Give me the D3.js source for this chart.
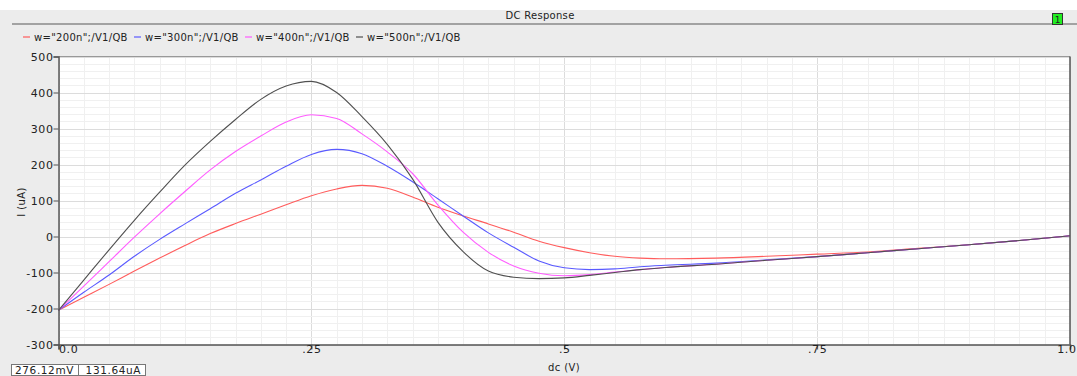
<!DOCTYPE html>
<html>
<head>
<meta charset="utf-8">
<script src="https://cdn.jsdelivr.net/npm/d3@7"></script>
<style>
  body { margin: 0; background: #fff; }
  svg { display: block; }
  text { font-family: 'DejaVu Sans', sans-serif; fill: #222; }
</style>
</head>
<body>
<div id="chart"></div>
<script>
// sweep points (dc, V)
const dc = [0, 0.025, 0.05, 0.075, 0.1, 0.125, 0.15, 0.175, 0.2, 0.225, 0.25, 0.275, 0.3,
  0.325, 0.35, 0.375, 0.4, 0.425, 0.45, 0.475, 0.5, 0.525, 0.55, 0.575, 0.6,
  0.65, 0.7, 0.75, 0.8, 0.85, 0.9, 0.95, 1.0]

// I (uA) per width
const w200 = [-205, -169, -133, -96, -60, -25, 8, 36, 62, 88, 113, 132, 142,
  134, 110, 81, 57, 35, 12, -13, -31, -45, -55, -60, -62,
  -60, -55, -49, -43, -33, -23, -11, 2]
const w300 = [-205, -155, -107, -55, -8, 35, 77, 120, 157, 195, 228, 242, 230,
  195, 152, 105, 57, 10, -30, -68, -87, -92, -90, -84, -80,
  -74, -65, -56, -45, -34, -23, -11, 2]
const w400 = [-205, -138, -70, -2, 63, 125, 185, 236, 279, 318, 338, 328, 285,
  235, 175, 88, 12, -44, -82, -102, -109, -106, -99, -92, -86,
  -77, -66, -56, -45, -34, -23, -11, 2]
const w500 = [-205, -121, -37, 45, 123, 198, 264, 325, 381, 418, 431, 400, 333,
  256, 160, 40, -42, -96, -113, -117, -115, -108, -100, -92, -86,
  -77, -66, -56, -45, -34, -23, -11, 2]

const seriesNames = ['w="200n";/V1/QB', 'w="300n";/V1/QB', 'w="400n";/V1/QB', 'w="500n";/V1/QB']
const seriesValues = [w200, w300, w400, w500]
const seriesColors = ['#ff5c5c', '#5a5aff', '#ff5cff', '#505050']

const xTicks = [0, 0.25, 0.5, 0.75, 1.0]
const xTickLabels = ['0.0', '.25', '.5', '.75', '1.0']
const yTicks = [-300, -200, -100, 0, 100, 200, 300, 400, 500]

const W = 1077
const H = 376

const svg = d3.select('#chart').append('svg')
  .attr('width', W)
  .attr('height', H)

// panel background
svg.append('rect').attr('x', 0).attr('y', 10).attr('width', W).attr('height', H - 10).attr('fill', '#ececec')

// title bar
svg.append('text')
  .attr('x', 540).attr('y', 19)
  .attr('text-anchor', 'middle')
  .style('font-size', '10px')
  .style('letter-spacing', '0.3px')
  .text('DC Response')
svg.append('line').attr('x1', 12).attr('x2', W).attr('y1', 24).attr('y2', 24)
  .attr('stroke', '#8a8a8a').attr('stroke-width', 1.5)
svg.append('rect').attr('x', 1052.5).attr('y', 13.5).attr('width', 10).attr('height', 11)
  .attr('fill', '#22ee22').attr('stroke', '#333')
svg.append('text').attr('x', 1057.5).attr('y', 23).attr('text-anchor', 'middle')
  .style('font-size', '9px').text('1')

// legend
const legend = svg.append('g')
  .selectAll('g')
  .data(seriesNames)
  .join('g')
  .attr('transform', (d, i) => `translate(${23 + i * 111},37)`)
legend.append('line')
  .attr('x1', 0).attr('x2', 7).attr('y1', 0).attr('y2', 0)
  .attr('stroke', (d, i) => seriesColors[i]).attr('stroke-width', 1.2)
legend.append('text')
  .attr('x', 11).attr('y', 3.5)
  .style('font-size', '10px')
  .style('letter-spacing', '0.3px')
  .text(d => d)

const x = d3.scaleLinear().domain([0, 1]).range([58.5, 1070])
const y = d3.scaleLinear().domain([-300, 500]).range([344.5, 56.5])

// plot area
svg.append('rect')
  .attr('x', x(0)).attr('y', y(500))
  .attr('width', x(1) - x(0)).attr('height', y(-300) - y(500))
  .attr('fill', '#fff')

const xMinor = d3.range(0, 1.0001, 0.025)
const yMinor = d3.range(-300, 501, 20)

const grid = svg.append('g')
grid.selectAll('.gx')
  .data(xMinor)
  .join('line')
  .attr('x1', d => Math.round(x(d)) + 0.5).attr('x2', d => Math.round(x(d)) + 0.5)
  .attr('y1', y(500)).attr('y2', y(-300))
  .attr('stroke', d => Math.abs(d * 4 - Math.round(d * 4)) < 1e-6 ? '#dcdcdc' : '#f0f0f0')
grid.selectAll('.gy')
  .data(yMinor)
  .join('line')
  .attr('y1', d => Math.round(y(d)) + 0.5).attr('y2', d => Math.round(y(d)) + 0.5)
  .attr('x1', x(0)).attr('x2', x(1))
  .attr('stroke', d => d % 100 === 0 ? '#dcdcdc' : '#f0f0f0')

// curves
const line = d3.line()
  .x((d, i) => x(dc[i]))
  .y(d => y(d))
  .curve(d3.curveMonotoneX)

svg.append('g')
  .selectAll('path')
  .data(seriesValues)
  .join('path')
  .attr('d', d => line(d))
  .attr('fill', 'none')
  .attr('stroke', (d, i) => seriesColors[i])
  .attr('stroke-width', 1.1)

// frame
svg.append('line').attr('x1', x(0)).attr('x2', x(1)).attr('y1', y(500)).attr('y2', y(500))
  .attr('stroke', '#999')
svg.append('line').attr('x1', x(1)).attr('x2', x(1)).attr('y1', y(500)).attr('y2', y(-300))
  .attr('stroke', '#555').attr('stroke-width', 1.5)

// y axis
const yAxis = svg.append('g').attr('transform', `translate(${x(0)},0)`)
yAxis.call(d3.axisLeft(y).tickValues(yMinor).tickSize(2).tickFormat(''))
yAxis.call(d3.axisLeft(y).tickValues(yTicks).tickSize(5).tickFormat(d => d))
yAxis.selectAll('.domain').attr('stroke', '#555').attr('stroke-width', 1.5)
yAxis.selectAll('.tick line').attr('stroke', '#555')
yAxis.selectAll('.tick text')
  .attr('x', -5)
  .style('font-family', "'DejaVu Sans', sans-serif")
  .style('font-size', '11px')
  .style('letter-spacing', '0.6px')
  .attr('fill', '#333')

// x axis
const xAxis = svg.append('g').attr('transform', `translate(0,${y(-300)})`)
xAxis.call(d3.axisTop(x).tickValues(xMinor).tickSize(3).tickFormat(''))
xAxis.call(d3.axisBottom(x).tickValues(xTicks).tickSize(5).tickFormat((d, i) => xTickLabels[i]))
xAxis.selectAll('.domain').attr('stroke', '#555').attr('stroke-width', 1.5)
xAxis.selectAll('.tick line').attr('stroke', '#555')
xAxis.selectAll('.tick text')
  .attr('y', 8)
  .style('font-family', "'DejaVu Sans', sans-serif")
  .style('font-size', '11px')
  .style('letter-spacing', '0.6px')
  .attr('fill', '#333')
xAxis.selectAll('.tick text').filter(d => d === 0).attr('text-anchor', 'start')
xAxis.selectAll('.tick text').filter(d => d === 1).attr('text-anchor', 'end').attr('x', 6)

// axis titles
svg.append('text')
  .attr('x', 564).attr('y', 371)
  .attr('text-anchor', 'middle')
  .style('font-size', '10px')
  .style('letter-spacing', '0.4px')
  .text('dc (V)')
svg.append('text')
  .attr('transform', 'translate(25,202) rotate(-90)')
  .attr('text-anchor', 'middle')
  .style('font-size', '10px')
  .style('letter-spacing', '0.4px')
  .text('I (uA)')

// cursor readout
const readout = ['276.12mV', '131.64uA']
svg.append('g')
  .selectAll('rect')
  .data(readout)
  .join('rect')
  .attr('x', (d, i) => 11.5 + i * 67)
  .attr('y', 364.5)
  .attr('width', 67).attr('height', 11)
  .attr('fill', '#fff').attr('stroke', '#777')
svg.append('g')
  .selectAll('text')
  .data(readout)
  .join('text')
  .attr('x', (d, i) => 74 + i * 67)
  .attr('y', 374)
  .attr('text-anchor', 'end')
  .style('font-size', '10.5px')
  .style('letter-spacing', '0.6px')
  .text(d => d)
</script>
</body>
</html>
